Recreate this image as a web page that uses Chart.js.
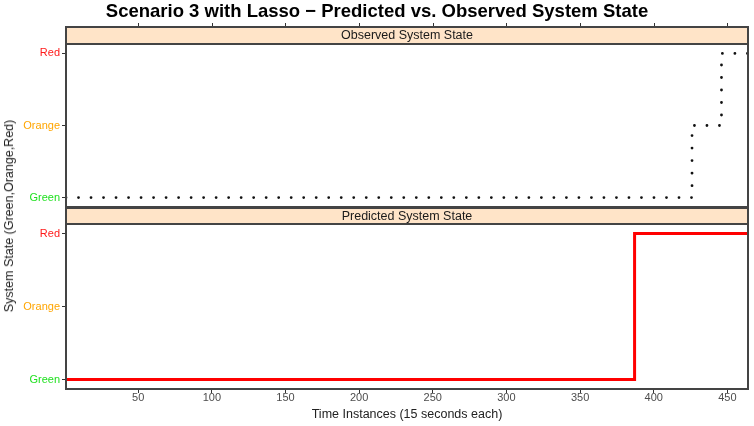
<!DOCTYPE html>
<html>
<head>
<meta charset="utf-8">
<script src="https://cdn.jsdelivr.net/npm/chart.js@4/dist/chart.umd.min.js"></script>
<style>
  body { margin: 0; background: #fff; }
  #wrap { position: relative; width: 754px; height: 426px; font-family: "Liberation Sans", Arial, sans-serif; overflow: hidden; }
  #title { position: absolute; left: 0; top: 0; width: 754px; text-align: center; font-weight: bold; font-size: 18.5px; line-height: 21px; color: #000; }
  #ytitle { position: absolute; left: 9px; top: 216px; transform: translate(-50%, -50%) rotate(-90deg); white-space: nowrap; font-size: 12.5px; color: #222; }
  #c1 { position: absolute; left: 0; top: 0; }
  #c2 { position: absolute; left: 0; top: 207px; }
</style>
</head>
<body>
<div id="wrap">
  <canvas id="c1" width="754" height="209"></canvas>
  <canvas id="c2" width="754" height="215"></canvas>
  <div id="title">Scenario 3 with Lasso − Predicted vs. Observed System State</div>
  <div id="ytitle">System State (Green,Orange,Red)</div>
</div>
<script>
// ---- data ----
const timeTicks = [50, 100, 150, 200, 250, 300, 350, 400, 450];
const stateLabels = ['Green', 'Orange', 'Red'];
const stateColors = ['#1fe01f', '#ffa500', '#ff1a1a'];
const obsTime  = [1, 426, 446, 464];
const obsState = [1, 2, 3, 3];
const predTime  = [1, 387, 464];
const predState = [1, 3, 3];
const panelTitles = ['Observed System State', 'Predicted System State'];

const X_MIN = 1, X_MAX = 464, Y_MIN = 0.87, Y_MAX = 3.13;
const FONT = '"Liberation Sans", Arial, sans-serif';

function pts(xs, ys) { return xs.map((x, i) => ({ x: x, y: ys[i] })); }

function stripPlugin(label, stripTop, topTicks) {
  return {
    id: 'strip',
    afterDraw(chart) {
      const { ctx, chartArea } = chart;
      const l = chartArea.left, r = chartArea.right, t = chartArea.top, b = chartArea.bottom;
      ctx.save();
      ctx.fillStyle = '#ffe4c8';
      ctx.fillRect(l, stripTop, r - l, t - stripTop);
      ctx.strokeStyle = '#444';
      ctx.lineWidth = 2;
      ctx.strokeRect(l, stripTop, r - l, t - stripTop);
      ctx.fillStyle = '#1a1a1a';
      ctx.font = '12.5px ' + FONT;
      ctx.textAlign = 'center';
      ctx.textBaseline = 'middle';
      ctx.fillText(label, (l + r) / 2, (stripTop + t) / 2 + 0.5);
      ctx.strokeStyle = '#444';
      ctx.lineWidth = 2;
      ctx.strokeRect(l, t, r - l, b - t);
      if (topTicks) {
        const xs = chart.scales.x;
        ctx.strokeStyle = '#333';
        ctx.lineWidth = 1;
        timeTicks.forEach(v => {
          const px = Math.round(xs.getPixelForValue(v)) + 0.5;
          ctx.beginPath();
          ctx.moveTo(px, stripTop - 1);
          ctx.lineTo(px, stripTop - 4);
          ctx.stroke();
        });
      }
      ctx.restore();
    }
  };
}

function yScale() {
  return {
    type: 'linear',
    min: Y_MIN, max: Y_MAX,
    afterBuildTicks(s) { s.ticks = [1, 2, 3].map(v => ({ value: v })); },
    afterFit(s) { s.width = 66; s.paddingTop = 0; s.paddingBottom = 0; },
    ticks: {
      callback: v => stateLabels[v - 1],
      color: c => stateColors[(c.tick ? c.tick.value : 1) - 1],
      font: { family: FONT, size: 11 },
      padding: 2
    },
    grid: { drawOnChartArea: false, drawTicks: true, tickLength: 4, tickColor: '#333', tickWidth: 1 },
    border: { display: false }
  };
}

function xScale(show) {
  return {
    type: 'linear',
    min: X_MIN, max: X_MAX,
    display: show,
    afterBuildTicks(s) { s.ticks = timeTicks.map(v => ({ value: v })); },
    afterFit(s) { if (show) { s.height = 33; } s.paddingLeft = 0; s.paddingRight = 0; },
    ticks: { font: { family: FONT, size: 11 }, color: '#4d4d4d', padding: -2, maxRotation: 0, autoSkip: false },
    grid: { drawOnChartArea: false, drawTicks: true, tickLength: 4, tickColor: '#333', tickWidth: 1 },
    border: { display: false },
    title: { display: show, text: 'Time Instances (15 seconds each)', font: { family: FONT, size: 12.5 }, color: '#222', padding: { top: 1, bottom: 0 } }
  };
}

new Chart(document.getElementById('c1'), {
  type: 'line',
  data: {
    datasets: [{
      data: pts(obsTime, obsState),
      stepped: true,
      borderColor: '#111',
      borderWidth: 2.8,
      borderDash: [0.01, 12.5],
      borderCapStyle: 'round',
      pointRadius: 0,
      fill: false
    }]
  },
  options: {
    responsive: false, animation: false,
    layout: { padding: { top: 44, bottom: 2, left: 0, right: 6 } },
    plugins: { legend: { display: false }, tooltip: { enabled: false } },
    scales: { x: xScale(false), y: yScale() }
  },
  plugins: [stripPlugin(panelTitles[0], 27, true)]
});

new Chart(document.getElementById('c2'), {
  type: 'line',
  data: {
    datasets: [{
      data: pts(predTime, predState),
      stepped: true,
      borderColor: '#ff0000',
      borderWidth: 3,
      pointRadius: 0,
      fill: false
    }]
  },
  options: {
    responsive: false, animation: false,
    layout: { padding: { top: 17, bottom: 0, left: 0, right: 6 } },
    plugins: { legend: { display: false }, tooltip: { enabled: false } },
    scales: { x: xScale(true), y: yScale() }
  },
  plugins: [stripPlugin(panelTitles[1], 1, false)]
});
</script>
</body>
</html>
